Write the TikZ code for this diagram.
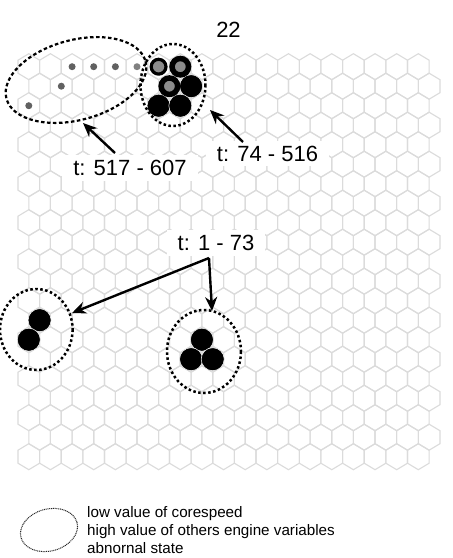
\documentclass[tikz,border=0pt]{standalone}
\usepackage{fontspec}
\setmainfont{Liberation Sans}
\usetikzlibrary{arrows.meta}
\begin{document}
\begin{tikzpicture}[x=1pt,y=-1pt,
  hexline/.style={draw=black!14, line width=1.1pt, line join=miter},
  smalldot/.style={circle, fill=black!62, inner sep=0pt, minimum size=7pt},
  bigdot/.style={circle, fill=black, draw=white, line width=0.5pt, inner sep=0pt, minimum size=23pt},
  ringdot/.style={circle, fill=black!45, draw=black, inner sep=0pt},
  zone/.style={draw=black, line width=2.5pt, dash pattern=on 2.5pt off 2.5pt},
  bigzone/.style={draw=black, line width=2.2pt, dash pattern=on 3.5pt off 2.5pt},
  legzone/.style={draw=black!85, line width=1pt, dash pattern=on 1pt off 0.8pt},
  lbl/.style={font=\fontsize{22}{26}\selectfont, inner sep=0pt},
  boxlbl/.style={lbl, fill=white, inner xsep=11pt, inner ysep=5pt},
  arr/.style={draw=black, line width=2.4pt, -{Stealth[length=14pt,width=12pt]}}
]
\useasboundingbox (0,0) rectangle (453,558);
\fill[white] (0,0) rectangle (453,558);
% hexagonal grid
\foreach \i in {0,...,20}{
  \foreach \k in {0,...,18}{
    \pgfmathsetmacro{\cx}{28.8+10.82*mod(\i,2)+21.64*\k}
    \pgfmathsetmacro{\cy}{66.7+19.5*\i}
    \draw[hexline] (\cx,\cy-13) -- (\cx+10.82,\cy-6.5) -- (\cx+10.82,\cy+6.5)
      -- (\cx,\cy+13) -- (\cx-10.82,\cy+6.5) -- (\cx-10.82,\cy-6.5) -- cycle;
  }
}
% small dots
\node[smalldot] (s1) at (72.1,66.7) {};
\node[smalldot] (s2) at (93.7,66.7) {};
\node[smalldot] (s3) at (115.4,66.7) {};
\node[smalldot, fill=black!50] (s4) at (137.0,66.7) {};
\node[smalldot] (s5) at (61.3,86.2) {};
\node[smalldot] (s6) at (28.8,105.7) {};
% top cluster
\node[bigdot] (b4) at (191.1,86.2) {};
\node[bigdot] (b5) at (158.6,105.7) {};
\node[bigdot] (b6) at (180.3,105.7) {};
\node[ringdot, line width=3.2pt, minimum size=14.8pt] (r1) at (158.6,66.7) {};
\node[ringdot, line width=5.5pt, minimum size=16.5pt] (r2) at (180.3,66.7) {};
\node[ringdot, line width=5.5pt, minimum size=16.5pt] (r3) at (169.4,86.2) {};
% bottom-left cluster
\node[bigdot] (c1) at (39.6,320.2) {};
\node[bigdot] (c2) at (28.8,339.7) {};
% bottom-right cluster
\node[bigdot] (d1) at (201.9,339.7) {};
\node[bigdot] (d2) at (191.1,359.2) {};
\node[bigdot] (d3) at (212.7,359.2) {};
% zones
\draw[bigzone, rotate around={15:(76,80)}] (76,80) ellipse [x radius=72, y radius=40];
\draw[zone] (173,85) ellipse [x radius=32.5, y radius=41];
\draw[zone] (36.3,329.5) ellipse [x radius=36.3, y radius=40.5];
\draw[zone] (204,351.5) ellipse [x radius=37, y radius=41.5];
% labels
\node[lbl] (l22) at (228.5,30) {22};
\node[boxlbl] (l1) at (130,168) {t: 517 - 607};
\node[boxlbl] (l2) at (267.5,153.5) {t: 74 - 516};
\node[boxlbl] (l3) at (216,243) {t: 1 - 73};
% arrows
\coordinate (a1s) at (115,153);
\coordinate (a1t) at (83,123);
\coordinate (a2s) at (243,142);
\coordinate (a2t) at (210,110);
\coordinate (a3s) at (209,258);
\coordinate (a3l) at (72,313);
\coordinate (a3d) at (212,311);
\draw[arr] (a1s) -- (a1t);
\draw[arr] (a2s) -- (a2t);
\draw[arr] (a3s) -- (a3l);
\draw[arr] (a3s) -- (a3d);
% legend
\draw[legzone, rotate around={15:(49,530)}] (49,530) ellipse [x radius=29, y radius=21];
\node[anchor=west, align=left, inner sep=0pt, font=\fontsize{15.2}{18}\selectfont] (leg) at (87,530)
  {low value of corespeed\\high value of others engine variables\\abnornal state};
\end{tikzpicture}
\end{document}
